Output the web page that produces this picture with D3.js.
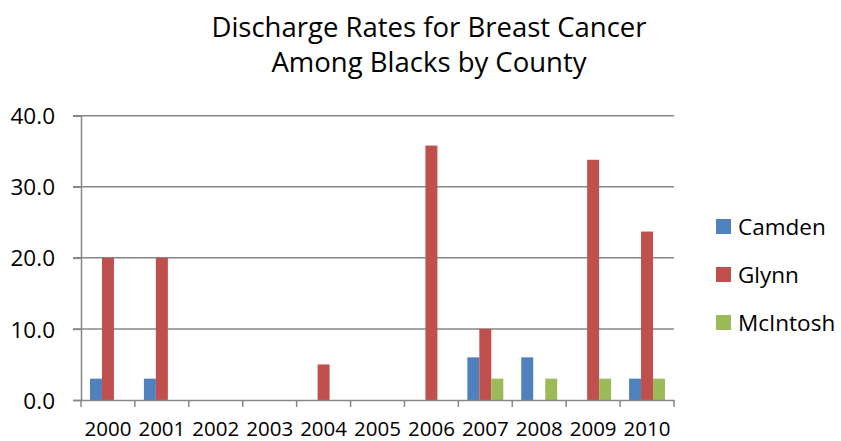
<!DOCTYPE html>
<html><head><meta charset="utf-8">
<script src="https://cdn.jsdelivr.net/npm/d3@7"></script>
<style>body{margin:0;background:#fff}svg{display:block}text{font-family:"Open Sans",sans-serif;fill:#000}</style>
</head><body>
<script>
const years = ["2000","2001","2002","2003","2004","2005","2006","2007","2008","2009","2010"];
const seriesNames = ["Camden","Glynn","McIntosh"];
const camden   = [3,3,0,0,0,0,0,6,6,0,3];
const glynn    = [20,20,0,0,5,0,35.8,10,0,33.8,23.7];
const mcintosh = [0,0,0,0,0,0,0,3,3,3,3];
const colors = ["#4F81BD","#C0504D","#9BBB59"];
const yTicks = [0,10,20,30,40];

const W=841,H=441;
const svg=d3.select("body").append("svg").attr("width",W).attr("height",H);
const m={left:81,right:674,top:115.7,bottom:400};
const x=d3.scaleBand().domain(years).range([m.left,m.right]).paddingInner(0).paddingOuter(0);
const xs=d3.scaleBand().domain(seriesNames).range([0,x.bandwidth()]).paddingInner(0).paddingOuter(0.75);
const y=d3.scaleLinear().domain([0,40]).range([m.bottom,m.top]);

// gridlines
svg.append("g").selectAll("line").data(yTicks.slice(1)).join("line")
 .attr("x1",m.left-8).attr("x2",m.right).attr("y1",d=>y(d)).attr("y2",d=>y(d))
 .attr("stroke","#878787").attr("stroke-width",1.5);

const data=[camden,glynn,mcintosh];
seriesNames.forEach((s,i)=>{
  svg.append("g").selectAll("rect").data(years).join("rect")
   .attr("x",d=>x(d)+xs(s)).attr("width",xs.bandwidth())
   .attr("y",(d,j)=>y(data[i][j])).attr("height",(d,j)=>y(0)-y(data[i][j]))
   .attr("fill",colors[i]);
});

// y axis
const ya=svg.append("g").attr("transform",`translate(${m.left},0)`)
 .call(d3.axisLeft(y).tickValues(yTicks).tickFormat(d3.format(".1f")).tickSize(8).tickPadding(18));
ya.select(".domain").attr("stroke","#878787").attr("stroke-width",1.5);
ya.selectAll(".tick line").attr("stroke","#878787").attr("stroke-width",1.5);
ya.selectAll("text").style("font-size","22.5px").attr("dy","0.36em");

// x axis
const xa=svg.append("g").attr("transform",`translate(0,${m.bottom})`)
 .call(d3.axisBottom(x).tickSize(0).tickPadding(21));
xa.select(".domain").attr("stroke","#878787").attr("stroke-width",1.5);
xa.selectAll("text").style("font-size","20.5px");
xa.selectAll(".sep").data(years.concat(["end"])).join("line").attr("class","sep")
 .attr("x1",(d,i)=>i<years.length?x(d):m.right).attr("x2",(d,i)=>i<years.length?x(d):m.right)
 .attr("y1",0).attr("y2",7).attr("stroke","#878787").attr("stroke-width",1.5);

// title
const t=svg.append("text").attr("text-anchor","middle").style("font-size","27.5px");
t.append("tspan").attr("x",429).attr("y",37).text("Discharge Rates for Breast Cancer");
t.append("tspan").attr("x",429).attr("y",72).text("Among Blacks by County");

// legend
const lg=svg.append("g").selectAll("g").data(seriesNames).join("g")
 .attr("transform",(d,i)=>`translate(716,${219+i*48})`);
lg.append("rect").attr("width",15).attr("height",15).attr("fill",(d,i)=>colors[i]);
lg.append("text").attr("x",22).attr("y",15.5).style("font-size","22.5px").text(d=>d);
</script>
</body></html>
